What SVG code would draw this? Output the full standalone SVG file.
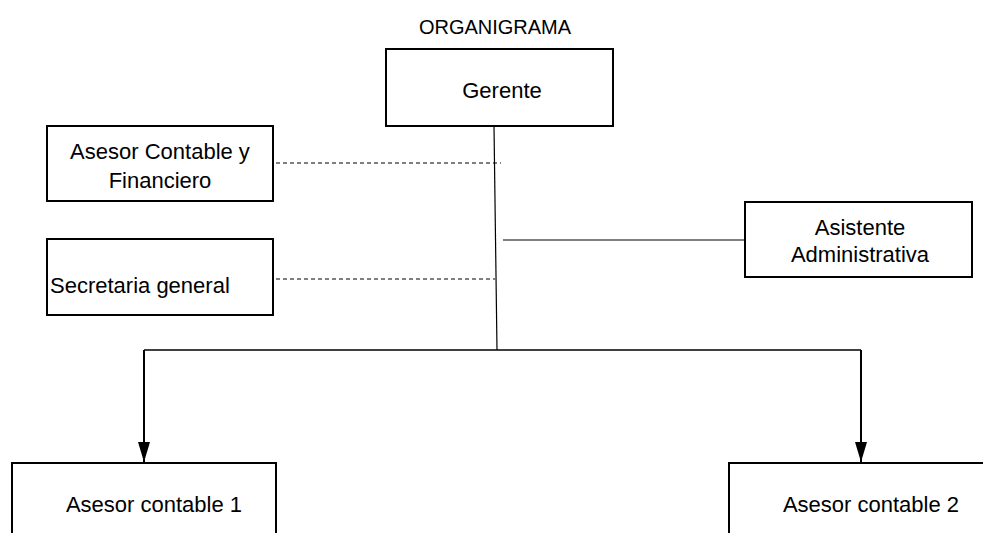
<svg xmlns="http://www.w3.org/2000/svg" width="983" height="533" viewBox="0 0 983 533">
<style>
.box{fill:#fff;stroke:#000;stroke-width:2}
.t{font-family:"Liberation Sans",Arial,sans-serif;font-size:22px;fill:#000}
.c{text-anchor:middle}
.ln{stroke:#000;stroke-width:1.2;fill:none}
.dash{stroke:#000;stroke-width:1;stroke-dasharray:4 3;fill:none}
.arr{stroke:#000;stroke-width:2;fill:none}
</style>
<defs>
<marker id="ah" viewBox="0 0 20 12" refX="20" refY="6" markerWidth="20" markerHeight="12" markerUnits="userSpaceOnUse" orient="auto">
<path d="M0,0 L20,6 L0,12 Z" fill="#000"/>
</marker>
</defs>
<rect width="983" height="533" fill="#fff"/>
<text class="t c" x="495" y="34" style="font-size:20px">ORGANIGRAMA</text>
<g id="connectors">
<line class="ln" x1="494" y1="126" x2="497" y2="350"/>
<line class="dash" x1="276" y1="163" x2="501" y2="163"/>
<line class="dash" x1="276" y1="279" x2="495" y2="279"/>
<line class="ln" x1="503" y1="240" x2="745" y2="240"/>
<polyline class="ln" points="144,350 861,350" style="stroke-width:1.5"/>
<line class="arr" x1="144" y1="350" x2="144" y2="462" marker-end="url(#ah)"/>
<line class="arr" x1="861" y1="350" x2="861" y2="462" marker-end="url(#ah)"/>
</g>
<g id="gerente">
<rect class="box" x="386" y="49" width="227" height="77"/>
<text class="t c" x="502" y="98">Gerente</text>
</g>
<g id="asesor-contable-financiero">
<rect class="box" x="47" y="126" width="226" height="75"/>
<text class="t c" x="160" y="159">Asesor Contable y</text>
<text class="t c" x="160" y="188">Financiero</text>
</g>
<g id="secretaria">
<rect class="box" x="47" y="239" width="226" height="76"/>
<text class="t" x="50" y="293">Secretaria general</text>
</g>
<g id="asistente">
<rect class="box" x="745" y="202" width="227" height="75"/>
<text class="t c" x="860" y="235">Asistente</text>
<text class="t c" x="860" y="262">Administrativa</text>
</g>
<g id="asesor1">
<rect class="box" x="12" y="463" width="264" height="90"/>
<text class="t c" x="154" y="512">Asesor contable 1</text>
</g>
<g id="asesor2">
<rect class="box" x="729" y="463" width="280" height="90"/>
<text class="t c" x="871" y="512">Asesor contable 2</text>
</g>
</svg>
